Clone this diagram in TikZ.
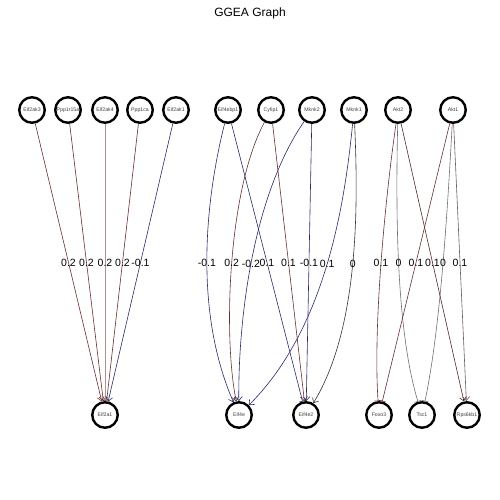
\documentclass[tikz,border=0pt]{standalone}
\usepackage{fontspec}
\setmainfont{Liberation Sans}
\usetikzlibrary{arrows.meta}
\definecolor{posc}{RGB}{105,45,45}
\definecolor{posl}{RGB}{175,145,145}
\definecolor{negc}{RGB}{40,40,105}
\definecolor{zeroc}{RGB}{110,110,110}
\begin{document}
\begin{tikzpicture}[x=1pt,y=-1pt]
    \tikzstyle{every node}+=[inner sep=0pt]
    \tikzstyle{gene}=[circle, draw=black, line width=2.4pt, minimum size=25.5pt, font=\fontsize{5.2}{6}\selectfont, text=black!75]
    \tikzstyle{wt}=[font=\fontsize{10.5}{12}\selectfont, text=black]
    \tikzstyle{act}=[-{Straight Barb[length=4pt,width=7pt]}, line width=0.6pt]
    \tikzstyle{inh}=[-{Bar[width=7pt]}, line width=0.6pt]
    \useasboundingbox (0,0) rectangle (500,500);
    \draw (250,13) node (title) {\fontsize{12}{14}\selectfont GGEA Graph};
    % upstream genes
    \draw (32,110) node[gene] (eif2ak3) {Eif2ak3};
    \draw (68,110) node[gene] (ppp1r15a) {Ppp1r15a};
    \draw (105,110) node[gene] (eif2ak4) {Eif2ak4};
    \draw (140,110) node[gene] (ppp1ca) {Ppp1ca};
    \draw (176,110) node[gene] (eif2ak1) {Eif2ak1};
    \draw (228,110) node[gene] (eif4ebp1) {Eif4ebp1};
    \draw (271,110) node[gene] (cyfip1) {Cyfip1};
    \draw (312,110) node[gene] (mknk2) {Mknk2};
    \draw (354,110) node[gene] (mknk1) {Mknk1};
    \draw (398,110) node[gene] (akt2) {Akt2};
    \draw (453,110) node[gene] (akt1) {Akt1};
    % targets
    \draw (105,415) node[gene] (eif2a1) {Eif2a1};
    \draw (239,415) node[gene] (eif4e) {Eif4e};
    \draw (306,415) node[gene] (eif4e2) {Eif4e2};
    \draw (379,415) node[gene] (foxo3) {Foxo3};
    \draw (422,415) node[gene] (tsc1) {Tsc1};
    \draw (467,415) node[gene] (rps6kb1) {Rps6kb1};
    % Eif2a1 edges
    \draw [act, posc] (eif2ak3) -- node[wt] {0.2} (eif2a1);
    \draw [act, posc] (ppp1r15a) -- node[wt] {0.2} (eif2a1);
    \draw [act, posl] (eif2ak4) -- node[wt] {0.2} (eif2a1);
    \draw [inh, posc] (ppp1ca) -- node[wt] {0.2} (eif2a1);
    \draw [act, negc] (eif2ak1) -- node[wt] {-0.1} (eif2a1);
    % Eif4e edges
    \draw [act, negc] (eif4ebp1) .. controls (203,210) and (196,316) .. (eif4e) node[wt, pos=0.5] {-0.1};
    \draw [act, posc] (cyfip1) .. controls (228,190) and (223,336) .. (eif4e) node[wt, pos=0.5] {0.2};
    \draw [act, negc] (mknk2) .. controls (250,200) and (238,330) .. (eif4e) node[wt, pos=0.5] {-0.2};
    \draw [act, negc] (mknk1) .. controls (345,200) and (327,327) .. (eif4e) node[wt, pos=0.5] {0.1};
    % Eif4e2 edges
    \draw [inh, negc] (eif4ebp1) -- node[wt] {0.1} (eif4e2);
    \draw [act, posc] (cyfip1) -- node[wt] {0.1} (eif4e2);
    \draw [act, negc] (mknk2) -- node[wt] {-0.1} (eif4e2);
    \draw [act, black!80] (mknk1) .. controls (358,200) and (360,327) .. (eif4e2) node[wt, pos=0.5] {0};
    % Akt edges
    \draw [inh, posc] (akt2) .. controls (385,200) and (373,326) .. (foxo3) node[wt, pos=0.5] {0.1};
    \draw [inh, zeroc] (akt2) .. controls (396,200) and (395,326) .. (tsc1) node[wt, pos=0.5] {0};
    \draw [act, posc!80!black] (akt2) -- node[wt] {0.1} (rps6kb1);
    \draw [inh, posc] (akt1) -- node[wt] {0.1} (foxo3);
    \draw [inh, zeroc] (akt1) .. controls (448,200) and (441,326) .. (tsc1) node[wt, pos=0.5] {0};
    \draw [act, zeroc!70!posc] (akt1) -- node[wt] {0.1} (rps6kb1);
\end{tikzpicture}
\end{document}
